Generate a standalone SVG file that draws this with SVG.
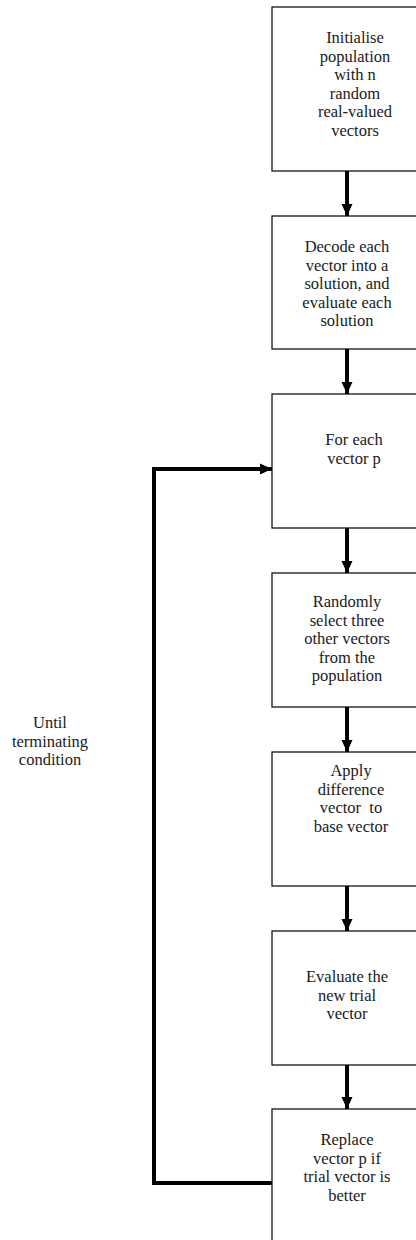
<svg xmlns="http://www.w3.org/2000/svg" width="416" height="1240" viewBox="0 0 416 1240">
  <style>
    .box { fill: #ffffff; stroke: #000000; stroke-width: 1.2; }
    .lbl { font-family: 'Liberation Serif', 'DejaVu Serif', serif; font-size: 16.5px; fill: #1a1a1a; text-anchor: middle; }
    .flow { fill: none; stroke: #000000; stroke-width: 4; }
  </style>
  <defs>
    <marker id="head" markerUnits="userSpaceOnUse" markerWidth="12" markerHeight="12" viewBox="0 0 12 12" refX="12" refY="6" orient="auto">
      <path d="M0,0.5 L12,6 L0,11.5 Z" fill="#000000"/>
    </marker>
  </defs>
  <rect width="416" height="1240" fill="#ffffff"/>

  <g id="connectors">
    <line class="flow" x1="347" y1="171" x2="347" y2="216" marker-end="url(#head)"/>
    <line class="flow" x1="347" y1="349" x2="347" y2="394" marker-end="url(#head)"/>
    <line class="flow" x1="347" y1="528" x2="347" y2="573" marker-end="url(#head)"/>
    <line class="flow" x1="347" y1="707" x2="347" y2="752" marker-end="url(#head)"/>
    <line class="flow" x1="347" y1="886" x2="347" y2="931" marker-end="url(#head)"/>
    <line class="flow" x1="347" y1="1065" x2="347" y2="1109" marker-end="url(#head)"/>
    <path class="flow" d="M272,1183 H154 V469 H272" marker-end="url(#head)"/>
  </g>

  <g font-family="Liberation Serif, DejaVu Serif, serif">
  <g id="init">
    <rect class="box" x="272" y="7" width="150" height="164"/>
    <text class="lbl" x="355" y="43">Initialise</text>
    <text class="lbl" x="355" y="61.5">population</text>
    <text class="lbl" x="355" y="80">with n</text>
    <text class="lbl" x="355" y="98.5">random</text>
    <text class="lbl" x="355" y="117">real-valued</text>
    <text class="lbl" x="355" y="135.5">vectors</text>
  </g>

  <g id="decode">
    <rect class="box" x="272" y="216" width="150" height="133"/>
    <text class="lbl" x="347" y="252">Decode each</text>
    <text class="lbl" x="347" y="270.5">vector into a</text>
    <text class="lbl" x="347" y="289">solution, and</text>
    <text class="lbl" x="347" y="307.5">evaluate each</text>
    <text class="lbl" x="347" y="326">solution</text>
  </g>

  <g id="foreach">
    <rect class="box" x="272" y="394" width="150" height="134"/>
    <text class="lbl" x="354" y="445">For each</text>
    <text class="lbl" x="354" y="463.5">vector p</text>
  </g>

  <g id="select">
    <rect class="box" x="272" y="573" width="150" height="134"/>
    <text class="lbl" x="347" y="607">Randomly</text>
    <text class="lbl" x="347" y="625.5">select three</text>
    <text class="lbl" x="347" y="644">other vectors</text>
    <text class="lbl" x="347" y="662.5">from the</text>
    <text class="lbl" x="347" y="681">population</text>
  </g>

  <g id="apply">
    <rect class="box" x="272" y="752" width="150" height="134"/>
    <text class="lbl" x="351" y="776" xml:space="preserve">Apply</text>
    <text class="lbl" x="351" y="794.5" xml:space="preserve">difference</text>
    <text class="lbl" x="351" y="813" xml:space="preserve">vector  to</text>
    <text class="lbl" x="351" y="831.5" xml:space="preserve">base vector</text>
  </g>

  <g id="evaluate">
    <rect class="box" x="272" y="931" width="150" height="134"/>
    <text class="lbl" x="347" y="982">Evaluate the</text>
    <text class="lbl" x="347" y="1000.5">new trial</text>
    <text class="lbl" x="347" y="1019">vector</text>
  </g>

  <g id="replace">
    <rect class="box" x="272" y="1109" width="150" height="140"/>
    <text class="lbl" x="347" y="1145">Replace</text>
    <text class="lbl" x="347" y="1163.5">vector p if</text>
    <text class="lbl" x="347" y="1182">trial vector is</text>
    <text class="lbl" x="347" y="1200.5">better</text>
  </g>

  <g id="loop-label">
    <text class="lbl" x="50" y="728">Until</text>
    <text class="lbl" x="50" y="746.5">terminating</text>
    <text class="lbl" x="50" y="765">condition</text>
  </g>
  </g>
</svg>
